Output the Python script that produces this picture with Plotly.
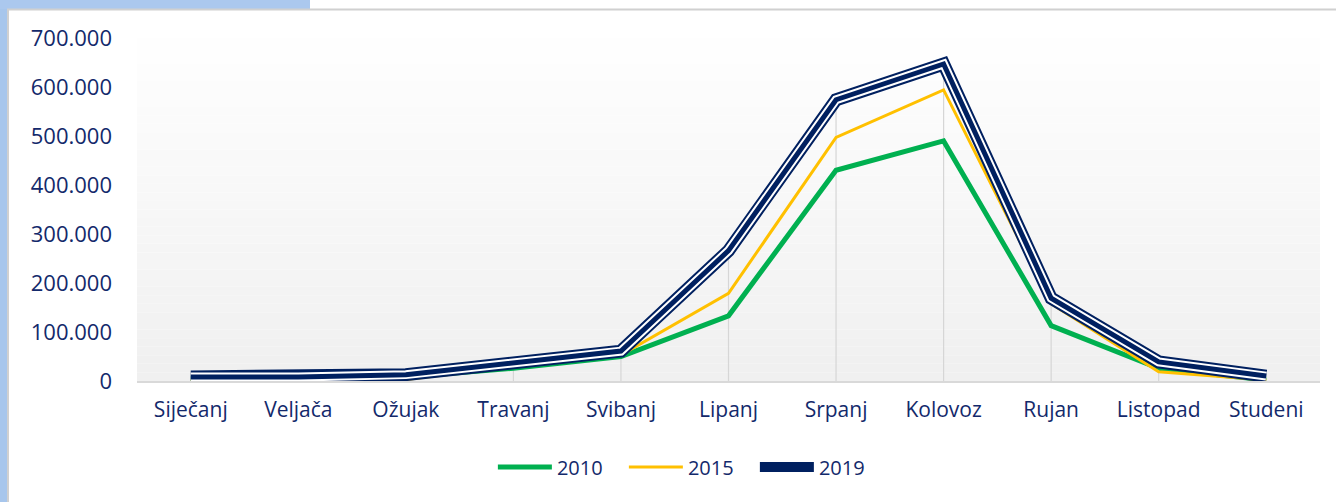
"""Monthly arrivals line chart, 2010 / 2015 / 2019."""

import plotly.graph_objects as go

months = ["Siječanj", "Veljača", "Ožujak", "Travanj", "Svibanj", "Lipanj",
          "Srpanj", "Kolovoz", "Rujan", "Listopad", "Studeni"]
y2010 = [5000, 4000, 8000, 26000, 50000, 133000, 430000, 490000, 113000, 26000, 2000]
y2015 = [2000, 1000, 3000, 29000, 53000, 179000, 497000, 594000, 158000, 19000, 2000]
y2019 = [8000, 8000, 13000, 37000, 61000, 266000, 574000, 647000, 169000, 39000, 10000]

NAVY = "#002060"
GREEN = "#00b050"
GOLD = "#ffc000"
TEXT = "#13296b"
W, H = 1336, 502
L, R, T, B = 137, 16, 38, 121
PW, PH = W - L - R, H - T - B


def px(x):
    return (x - L) / PW


def py(y):
    return (H - B - y) / PH


fig = go.Figure()

# drop lines from the 2019 series down to the axis
dx, dy = [], []
for m, v in zip(months, y2019):
    dx += [m, m, None]
    dy += [0, v, None]
fig.add_trace(go.Scatter(x=dx, y=dy, mode="lines", line=dict(color="#d6d6d6", width=1.2),
                         hoverinfo="skip", showlegend=False))

fig.add_trace(go.Scatter(x=months, y=y2010, mode="lines", name="2010",
                         line=dict(color=GREEN, width=5)))
fig.add_trace(go.Scatter(x=months, y=y2015, mode="lines", name="2015",
                         line=dict(color=GOLD, width=3)))
# 2019: compound line (thin-thick-thin) built from three strokes
fig.add_trace(go.Scatter(x=months, y=y2019, mode="lines", name="2019", legendgroup="2019",
                         line=dict(color=NAVY, width=13)))
fig.add_trace(go.Scatter(x=months, y=y2019, mode="lines", legendgroup="2019", showlegend=False,
                         line=dict(color="white", width=9), hoverinfo="skip"))
fig.add_trace(go.Scatter(x=months, y=y2019, mode="lines", legendgroup="2019", showlegend=False,
                         line=dict(color=NAVY, width=5), hoverinfo="skip"))

shapes = []
# plot area vertical gradient white -> light grey
n = 40
for i in range(n):
    c = int(255 - 15 * (i + 0.5) / n)
    shapes.append(dict(type="rect", xref="x domain", yref="y domain", x0=0, x1=1,
                       y0=1 - (i + 1) / n, y1=1 - i / n, layer="below", line_width=0,
                       fillcolor=f"rgb({c},{c},{c})"))
# slide decoration: blue strips on the left and top-left, card border
shapes.append(dict(type="rect", xref="paper", yref="paper", x0=px(0), x1=px(7), y0=py(H), y1=py(0),
                   line_width=0, fillcolor="#a7c6ec", layer="below"))
shapes.append(dict(type="rect", xref="paper", yref="paper", x0=px(0), x1=px(310), y0=py(9), y1=py(0),
                   line_width=0, fillcolor="#abc8ee", layer="below"))
shapes.append(dict(type="line", xref="paper", yref="paper", x0=px(7), x1=px(W), y0=py(9.5), y1=py(9.5),
                   line=dict(color="#d0d0d0", width=2), layer="below"))
shapes.append(dict(type="line", xref="paper", yref="paper", x0=px(8), x1=px(8), y0=py(9), y1=py(H),
                   line=dict(color="#d0d0d0", width=2), layer="below"))

fig.update_layout(
    width=W, height=H,
    margin=dict(l=L, r=R, t=T, b=B),
    paper_bgcolor="white", plot_bgcolor="rgba(0,0,0,0)",
    separators=",.",
    font=dict(family="Open Sans, sans-serif", size=21, color=TEXT),
    shapes=shapes,
    showlegend=True,
    legend=dict(orientation="h", xref="container", yref="container", x=0.516, y=1 - 467 / H,
                xanchor="center", yanchor="middle", font=dict(size=20, color=TEXT),
                itemwidth=54, entrywidth=62, entrywidthmode="pixels",
                bgcolor="rgba(0,0,0,0)"),
)
fig.update_xaxes(type="category", range=[-0.5, 10.5], showgrid=False, zeroline=False,
                 showline=True, linecolor="#d9d9d9", linewidth=2, ticks="",
                 ticklabelstandoff=9, tickfont=dict(size=21))
fig.update_yaxes(range=[0, 700000], dtick=100000, tickformat=",d", showgrid=False,
                 zeroline=False, showline=False, ticks="", ticklabelstandoff=24,
                 tickfont=dict(size=22))

fig.write_html("out.html", config={"displayModeBar": False},
               post_script="document.body.style.margin = '0px';")
